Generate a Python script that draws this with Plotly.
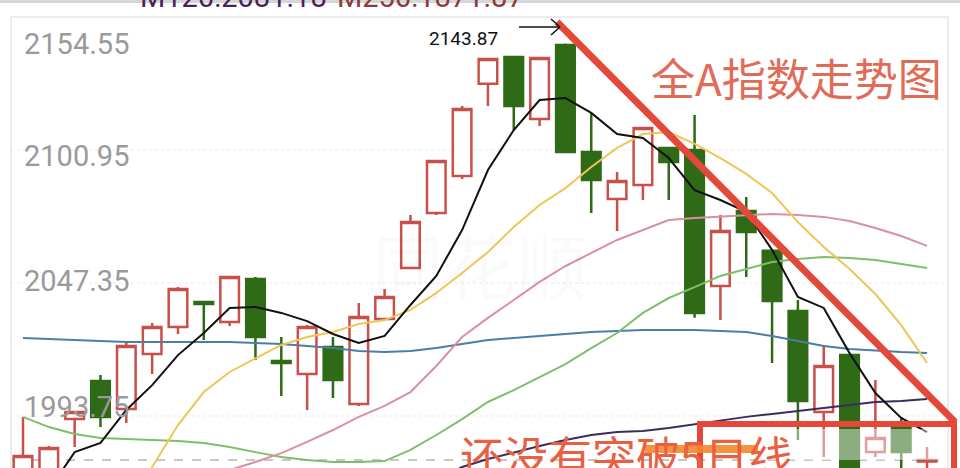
import plotly.graph_objects as go

# ---- data ----
idx = list(range(36))
opens = [1963.9, 1961.9, 1992.5, 2007.9, 1996.6, 2018.7, 2029.6, 2039.7, 2031.6, 2049.0,
         2015.9, 2010.7, 2021.6, 1998.6, 2032.8, 2053.4, 2075.6, 2090.5, 2127.6, 2138.4,
         2113.4, 2143.3, 2100.1, 2081.2, 2086.8, 2101.8, 2101.0, 2046.1, 2076.4, 2060.3,
         2036.1, 1995.4, 2018.3, 1979.2, 1988.9, 1975.4]
highs = [1993.4, 1981.7, 1995.8, 2010.3, 2023.2, 2031.2, 2045.7, 2040.1, 2050.2, 2049.8,
         2025.6, 2030.4, 2025.6, 2039.3, 2044.9, 2074.8, 2096.9, 2118.7, 2138.0, 2138.4,
         2138.0, 2143.87, 2115.9, 2092.1, 2110.2, 2102.2, 2115.1, 2074.8, 2082.0, 2060.7,
         2040.5, 2022.4, 2018.7, 2008.3, 1993.4, 1981.3]
lows = [1959.9, 1959.9, 1981.3, 1989.3, 1990.9, 2010.7, 2026.8, 2024.4, 2030.0, 2016.3,
        2001.8, 1996.2, 2001.0, 1997.8, 2032.4, 2053.0, 2074.8, 2089.3, 2118.7, 2109.0,
        2110.6, 2099.7, 2075.6, 2068.3, 2080.8, 2080.8, 2033.3, 2032.4, 2049.8, 2015.1,
        1984.1, 1977.2, 1961.9, 1977.2, 1971.2, 1971.2]
closes = [1977.6, 1980.9, 1995.4, 1993.4, 2022.0, 2029.6, 2044.9, 2038.9, 2049.8, 2025.6,
          2015.1, 2029.6, 2008.3, 2033.7, 2041.7, 2071.9, 2096.5, 2117.5, 2137.6, 2118.7,
          2138.0, 2100.1, 2088.9, 2088.5, 2109.8, 2096.1, 2035.3, 2068.3, 2067.9, 2040.1,
          1999.8, 2013.9, 1965.9, 1984.9, 1979.2, 1976.0]

ma5 = [None, 1963.9, 1979.2, 1982.9, 1996.2, 2006.2, 2018.3, 2027.2, 2037.3, 2037.7,
       2035.3, 2032.0, 2026.8, 2023.2, 2026.0, 2038.5, 2050.2, 2068.7, 2092.9, 2109.0,
       2121.1, 2121.9, 2115.9, 2107.4, 2105.8, 2097.7, 2084.8, 2080.8, 2076.0, 2060.7,
       2041.7, 2037.3, 2019.1, 2003.0, 1993.0, 1987.3]
ma10 = [None, None, None, None, 1955.1, 1973.2, 1990.1, 2003.4, 2011.5, 2017.1,
        2022.4, 2025.6, 2027.6, 2030.8, 2032.4, 2036.5, 2043.3, 2051.4, 2059.8, 2069.9,
        2078.8, 2085.6, 2094.1, 2101.8, 2107.4, 2108.2, 2103.4, 2097.7, 2091.3, 2083.6,
        2071.9, 2061.9, 2053.0, 2042.9, 2030.4, 2015.1]
ma20 = [None] * 7 + [1968.4, 1972.0, 1975.2, 1978.8, 1983.3, 1988.1, 1993.4, 1997.8, 2003.4,
                     2013.9, 2025.6, 2033.3, 2040.5, 2047.8, 2054.2, 2059.4, 2064.7, 2068.7,
                     2072.7, 2073.5, 2074.0, 2074.8, 2075.2, 2074.8, 2074.0, 2072.3, 2069.5,
                     2066.3, 2062.3]
ma30 = [1993.4, 1989.3, 1986.5, 1984.9, 1984.5, 1984.1, 1983.7, 1982.9, 1981.3, 1979.2,
        1977.2, 1976.0, 1975.2, 1975.2, 1975.6, 1980.1, 1986.1, 1992.5, 1999.4, 2004.2,
        2009.5, 2014.7, 2021.1, 2027.2, 2035.3, 2041.3, 2045.7, 2050.2, 2053.0, 2055.8,
        2057.0, 2057.8, 2057.4, 2056.6, 2055.0, 2053.4]
ma60 = [2025.2, 2024.8, 2024.4, 2024.0, 2023.6, 2023.6, 2023.6, 2023.6, 2023.6, 2023.2,
        2022.8, 2022.0, 2021.2, 2020.0, 2019.5, 2020.0, 2021.2, 2022.8, 2024.4, 2025.2,
        2026.0, 2026.8, 2027.6, 2028.0, 2028.4, 2028.4, 2028.4, 2028.0, 2027.6, 2026.0,
        2024.0, 2022.0, 2020.8, 2020.0, 2019.5, 2019.1]
ma120 = [None] * 16 + [1968.0, 1973.2, 1976.4, 1979.2, 1981.7, 1984.1, 1986.1, 1987.3, 1987.7,
                       1988.9, 1990.5, 1992.1, 1993.4, 1994.6, 1995.8, 1997.0, 1998.2, 1999.4,
                       1999.8, 2000.6]

y_ticks = [2154.55, 2100.95, 2047.35, 1993.75]
y_tick_labels = ["2154.55", "2100.95", "2047.35", "1993.75"]
high_label = "2143.87"
header_texts = ["M120:2081.18", "M250:1871.87"]
title_text = "全A指数走势图"
note_text = "还没有突破5日线"

# ---- styles ----
W, H = 960, 468
RED = "#c9504a"
GREEN = "#2f6b17"
ANN_RED = "#e4483a"

fig = go.Figure()

fig.add_trace(go.Candlestick(
    x=idx, open=opens, high=highs, low=lows, close=closes,
    increasing=dict(line=dict(color=RED, width=2.5), fillcolor="white"),
    decreasing=dict(line=dict(color=GREEN, width=2.5), fillcolor=GREEN),
    whiskerwidth=0, hoverinfo="skip", showlegend=False,
))

ma_styles = [
    (ma120, "#3d2b5c", 2),
    (ma60, "#4b7ea6", 2),
    (ma30, "#7fbf6a", 2),
    (ma20, "#d890a5", 2),
    (ma10, "#efc655", 2),
    (ma5, "#111111", 2),
]
for vals, col, w in ma_styles:
    fig.add_trace(go.Scatter(x=idx, y=vals, mode="lines", line=dict(color=col, width=w),
                             hoverinfo="skip", showlegend=False, connectgaps=False))

shapes = []
# light frame
shapes.append(dict(type="rect", xref="paper", yref="paper", x0=11 / W, x1=948 / W,
                   y0=-0.05, y1=1 - 17 / H, line=dict(color="#e6e6e6", width=1.5), layer="below"))
# top grey band
shapes.append(dict(type="rect", xref="paper", yref="paper", x0=0, x1=1, y0=1 - 3 / H, y1=1.01,
                   fillcolor="#d6d6d6", line=dict(width=0), layer="below"))
# gridlines
for t in y_ticks[1:]:
    shapes.append(dict(type="line", xref="paper", yref="y", x0=11 / W, x1=948 / W, y0=t, y1=t,
                       line=dict(color="#e9e9e9", width=1, dash="dot"), layer="below"))
# current price dashed line
shapes.append(dict(type="line", xref="paper", yref="y", x0=12 / W, x1=948 / W,
                   y0=closes[-1], y1=closes[-1],
                   line=dict(color="#b5b5b5", width=1.5, dash="dash"), layer="below"))
# blurred (mosaic) patch
shapes.append(dict(type="rect", xref="paper", yref="paper", x0=765 / W, x1=947 / W,
                   y0=1 - 460 / H, y1=1 - 429 / H, fillcolor="rgba(255,255,255,0.45)",
                   line=dict(width=0), layer="above"))
# red trend line
shapes.append(dict(type="line", xref="paper", yref="paper", x0=557 / W, y0=1 - 22 / H,
                   x1=955 / W, y1=1 - 422 / H, line=dict(color=ANN_RED, width=7), layer="above"))
# red box
shapes.append(dict(type="rect", xref="paper", yref="paper", x0=700 / W, x1=954 / W,
                   y0=-0.05, y1=1 - 424 / H, line=dict(color=ANN_RED, width=6), layer="above"))
# orange highlight stroke
shapes.append(dict(type="line", xref="paper", yref="paper", x0=645 / W, x1=758 / W,
                   y0=1 - 449 / H, y1=1 - 449 / H,
                   line=dict(color="rgba(245,135,45,0.9)", width=8), layer="above"))
# arrow to high
shapes.append(dict(type="line", xref="paper", yref="paper", x0=519 / W, x1=560 / W,
                   y0=1 - 27 / H, y1=1 - 27 / H, line=dict(color="#111", width=1.5), layer="above"))
shapes.append(dict(type="line", xref="paper", yref="paper", x0=551 / W, x1=560 / W,
                   y0=1 - 19 / H, y1=1 - 27 / H, line=dict(color="#111", width=1.5), layer="above"))
shapes.append(dict(type="line", xref="paper", yref="paper", x0=551 / W, x1=560 / W,
                   y0=1 - 35 / H, y1=1 - 27 / H, line=dict(color="#111", width=1.5), layer="above"))

annotations = []
label_shifts = [-27, -5.5, 2, 9]
for t, lab, s in zip(y_ticks, y_tick_labels, label_shifts):
    annotations.append(dict(x=22 / W, xref="paper", y=t, yref="y", text=lab, showarrow=False,
                            xanchor="left", yanchor="middle", yshift=s,
                            font=dict(family="Roboto", size=29, color="#9a9a9a")))
annotations.append(dict(x=463 / W, xref="paper", y=1 - 38 / H, yref="paper", text=high_label,
                        showarrow=False, xanchor="center", yanchor="middle",
                        font=dict(family="Roboto", size=19, color="#111")))
annotations.append(dict(x=138 / W, xref="paper", y=1 + 3 / H, yref="paper", text=header_texts[0],
                        showarrow=False, xanchor="left", yanchor="middle",
                        font=dict(family="Roboto", size=29, color="#4b1f5e")))
annotations.append(dict(x=335 / W, xref="paper", y=1 + 3 / H, yref="paper", text=header_texts[1],
                        showarrow=False, xanchor="left", yanchor="middle",
                        font=dict(family="Roboto", size=29, color="#8c3a3a")))
annotations.append(dict(x=796 / W, xref="paper", y=1 - 77 / H, yref="paper", text=title_text,
                        showarrow=False, xanchor="center", yanchor="middle",
                        font=dict(family="Noto Sans CJK SC", size=44, color="#e06c57")))
annotations.append(dict(x=458 / W, xref="paper", y=1 - 455 / H, yref="paper", text=note_text,
                        showarrow=False, xanchor="left", yanchor="middle",
                        font=dict(family="Noto Sans CJK SC", size=44, color="#e8603f")))
annotations.append(dict(x=480 / W, xref="paper", y=1 - 262 / H, yref="paper", text="同花顺",
                        showarrow=False, xanchor="center", yanchor="middle",
                        font=dict(family="Noto Sans CJK SC", size=72,
                                  color="rgba(0,0,0,0.02)")))

fig.update_layout(
    width=W, height=H, margin=dict(l=0, r=0, t=0, b=0, pad=0),
    paper_bgcolor="white", plot_bgcolor="white",
    showlegend=False, hovermode=False, boxgap=0.28, boxgroupgap=0,
    xaxis=dict(range=[-23 / 25.83, (W - 23) / 25.83], visible=False, rangeslider=dict(visible=False),
               showgrid=False, zeroline=False),
    yaxis=dict(range=[1972.80, 2161.40], visible=False, showgrid=False, zeroline=False),
    shapes=shapes, annotations=annotations,
)

fig.write_html("out.html", config={"displayModeBar": False, "staticPlot": True},
               post_script="document.body.style.margin='0px';document.body.style.padding='0px';"
                           "document.body.style.overflow='hidden';")
